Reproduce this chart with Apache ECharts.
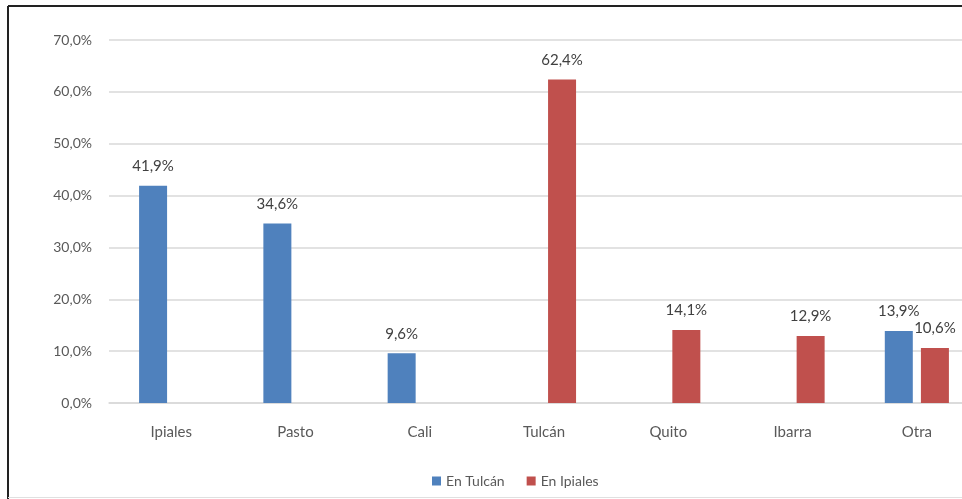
<!DOCTYPE html>
<html>
<head>
<meta charset="utf-8">
<script src="https://cdn.jsdelivr.net/npm/echarts@6/dist/echarts.min.js"></script>
<style>
  html, body { margin: 0; padding: 0; background: #fff; }
  #chart { width: 962px; height: 499px; }
</style>
</head>
<body>
<div id="chart"></div>
<script>
// 데이터
var categories = ['Ipiales', 'Pasto', 'Cali', 'Tulcán', 'Quito', 'Ibarra', 'Otra'];
var enTulcan = [41.9, 34.6, 9.6, null, null, null, 13.9];
var enIpiales = [null, null, null, 62.4, 14.1, 12.9, 10.6];
var seriesNames = ['En Tulcán', 'En Ipiales'];

function pct(v) {
	return v.toFixed(1).replace('.', ',') + '%';
}

var chart = echarts.init(document.getElementById('chart'));

var labelStyle = {
	show: true,
	position: 'top',
	distance: 12,
	color: '#404040',
	fontFamily: 'Lato',
	fontSize: 15,
	formatter: function(p) { return pct(p.value); }
};

var option = {
	animation: false,
	// 프레임 테두리
	graphic: [{
		type: 'line',
		shape: { x1: 8, y1: 6, x2: 962, y2: 6 },
		style: { stroke: '#222', lineWidth: 2 },
		silent: true
	}, {
		type: 'line',
		shape: { x1: 8, y1: 6, x2: 8, y2: 499 },
		style: { stroke: '#222', lineWidth: 2 },
		silent: true
	}, {
		type: 'line',
		shape: { x1: 8, y1: 497.5, x2: 962, y2: 497.5 },
		style: { stroke: '#e0e0e0', lineWidth: 1 },
		silent: true
	}],
	legend: {
		data: seriesNames,
		bottom: 6,
		left: 427,
		itemWidth: 9,
		itemHeight: 9,
		itemGap: 22,
		icon: 'rect',
		textStyle: { color: '#595959', fontFamily: 'Lato', fontSize: 14 }
	},
	grid: {
		left: 109,
		top: 40,
		width: 870,
		bottom: 96,
		containLabel: false,
		outerBoundsMode: 'none'
	},
	xAxis: {
		type: 'category',
		data: categories,
		axisLine: { lineStyle: { color: '#d9d9d9', width: 1.5 } },
		axisTick: { show: false },
		axisLabel: { color: '#595959', fontFamily: 'Lato', fontSize: 15, margin: 22 }
	},
	yAxis: {
		type: 'value',
		min: 0,
		max: 70,
		interval: 10,
		axisLine: { show: false },
		axisTick: { show: false },
		splitLine: { lineStyle: { color: '#d9d9d9', width: 1.5 } },
		axisLabel: {
			color: '#595959',
			fontFamily: 'Lato',
			fontSize: 14,
			margin: 17,
			formatter: function(v) { return pct(v); }
		}
	},
	series: [{
		name: seriesNames[0],
		type: 'bar',
		data: enTulcan,
		barWidth: 28,
		barGap: '29%',
		itemStyle: { color: '#4f81bd' },
		label: labelStyle
	}, {
		name: seriesNames[1],
		type: 'bar',
		data: enIpiales,
		barWidth: 28,
		itemStyle: { color: '#c0504d' },
		label: labelStyle
	}]
};

chart.setOption(option);
</script>
</body>
</html>
